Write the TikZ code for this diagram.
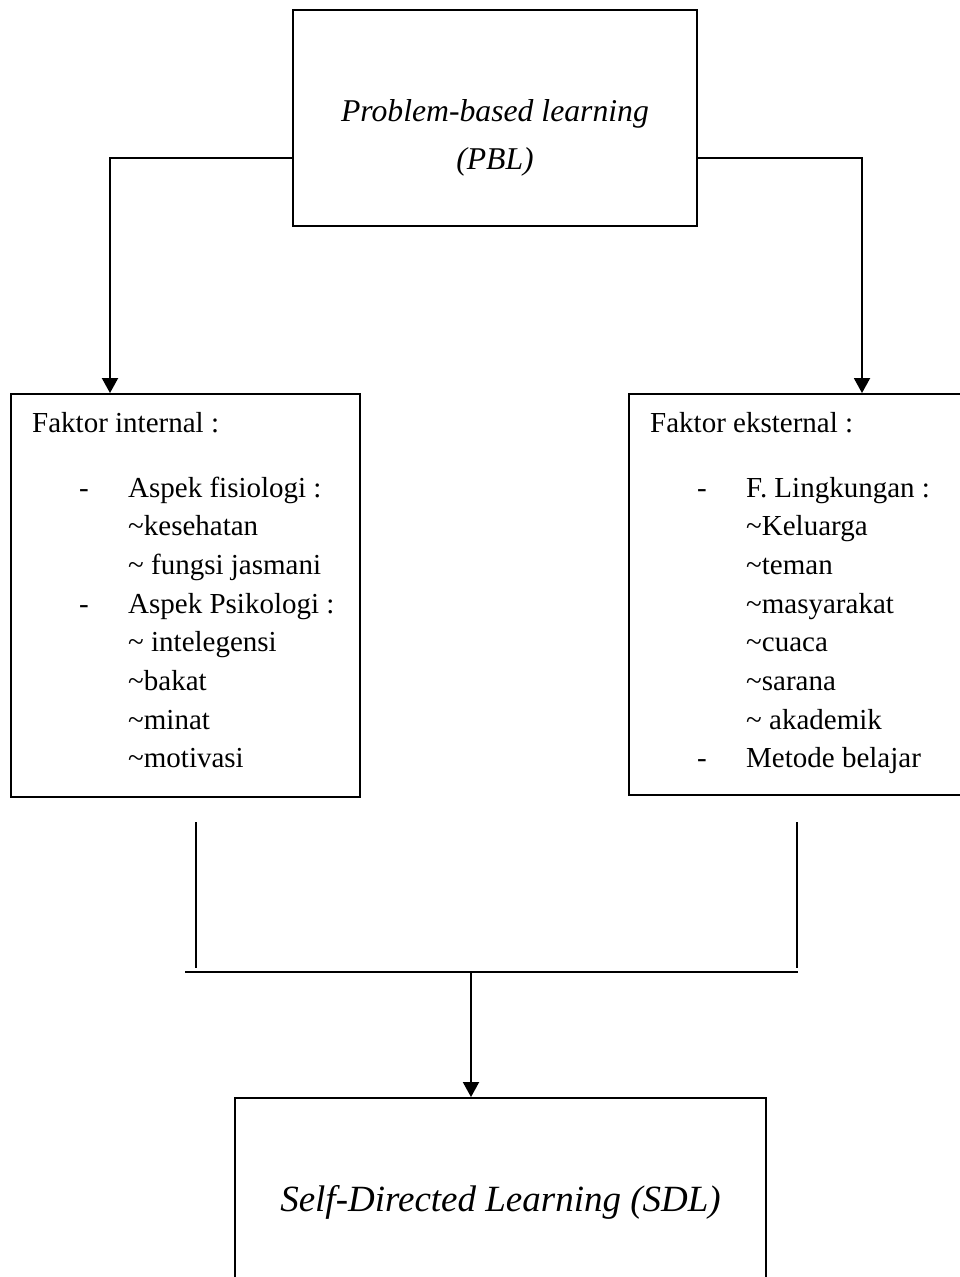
\documentclass[tikz,border=0pt]{standalone}
\usepackage{fontspec}
\setmainfont{Liberation Serif}
\usetikzlibrary{arrows.meta}
\begin{document}
\begin{tikzpicture}[x=1pt,y=-1pt,
  box/.style={draw,line width=1.9pt,inner sep=0pt},
  conn/.style={line width=1.9pt},
  arr/.style={conn,-{Triangle[length=15pt,width=16pt]}},
  body/.style={font=\fontsize{29}{35}\selectfont,inner sep=0pt,anchor=base west},
  titlea/.style={font=\fontsize{31.7}{38}\selectfont\itshape,inner sep=0pt,anchor=base},
  titleb/.style={font=\fontsize{37}{44}\selectfont\itshape,inner sep=0pt,anchor=base},
]
\useasboundingbox (0,0) rectangle (959,1277);

% boxes
\node[box,minimum width=404pt,minimum height=216pt] (pbl) at (495,118) {};
\node[box,minimum width=349pt,minimum height=403pt] (intl) at (185.5,595.5) {};
\node[box,minimum width=340pt,minimum height=401pt] (ext) at (799,594.5) {};
\node[box,minimum width=531pt,minimum height=200pt] (sdl) at (500.5,1198) {};

% titles
\node[titlea] (pbl1) at (495,121) {Problem-based learning};
\node[titlea] (pbl2) at (495,169) {(PBL)};
\node[titleb] (sdlt) at (500.5,1211) {Self-Directed Learning (SDL)};

% internal factors
\node[body] (i0) at (32,432) {Faktor internal :};
\node[body] (id1) at (79,497) {-};
\node[body] (i1) at (128,497) {Aspek fisiologi :};
\node[body] (i2) at (128,535.7) {\textasciitilde kesehatan};
\node[body] (i3) at (128,574.4) {\textasciitilde{} fungsi jasmani};
\node[body] (id4) at (79,613.1) {-};
\node[body] (i4) at (128,613.1) {Aspek Psikologi :};
\node[body] (i5) at (128,651.8) {\textasciitilde{} intelegensi};
\node[body] (i6) at (128,690.5) {\textasciitilde bakat};
\node[body] (i7) at (128,729.2) {\textasciitilde minat};
\node[body] (i8) at (128,767.9) {\textasciitilde motivasi};

% external factors
\node[body] (e0) at (650,432) {Faktor eksternal :};
\node[body] (ed1) at (697,497) {-};
\node[body] (e1) at (746,497) {F. Lingkungan :};
\node[body] (e2) at (746,535.7) {\textasciitilde Keluarga};
\node[body] (e3) at (746,574.4) {\textasciitilde teman};
\node[body] (e4) at (746,613.1) {\textasciitilde masyarakat};
\node[body] (e5) at (746,651.8) {\textasciitilde cuaca};
\node[body] (e6) at (746,690.5) {\textasciitilde sarana};
\node[body] (e7) at (746,729.2) {\textasciitilde{} akademik};
\node[body] (ed8) at (697,767.9) {-};
\node[body] (e8) at (746,767.9) {Metode belajar};

% connectors from PBL
\draw[arr] (pbl.west |- 0,158) -| (intl.north -| 110,0);
\draw[arr] (pbl.east |- 0,158) -| (ext.north -| 862,0);

% merging lines
\coordinate (lt) at (196,822);
\coordinate (lb) at (196,968);
\coordinate (rt) at (797,822);
\coordinate (rb) at (797,968);
\coordinate (hl) at (185,972);
\coordinate (hr) at (798,972);
\coordinate (hm) at (471,972);
\draw[conn] (lt) -- (lb);
\draw[conn] (rt) -- (rb);
\draw[line width=2.8pt] (hl) -- (hr);
\draw[arr] (hm) -- (hm |- sdl.north);
\end{tikzpicture}
\end{document}
